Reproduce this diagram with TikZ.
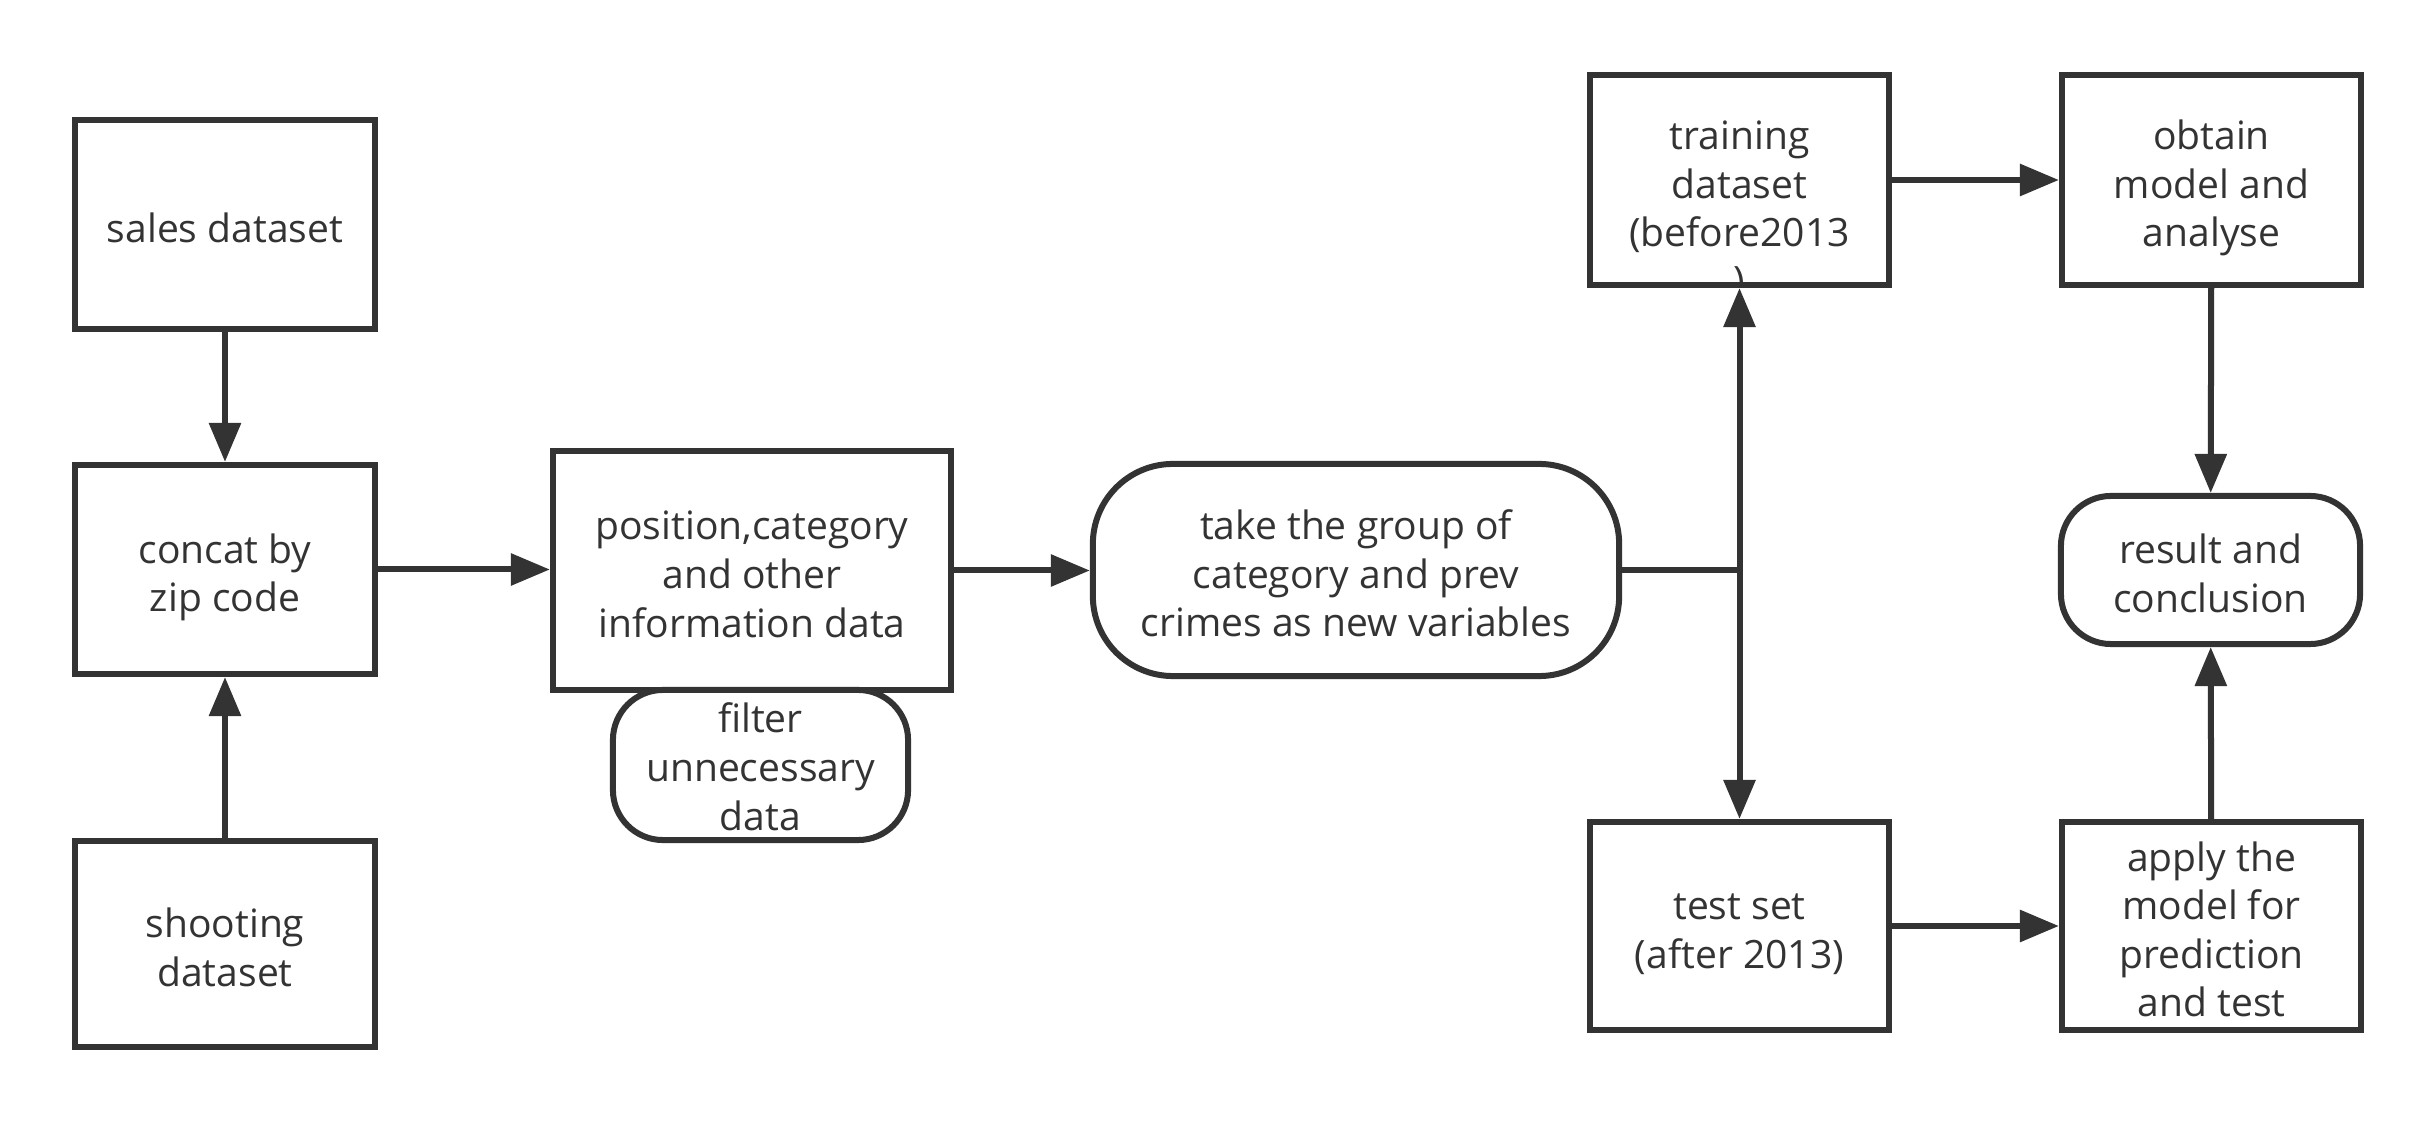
\documentclass[tikz,border=0pt]{standalone}
\usepackage{fontspec}
\setmainfont{Open Sans}
\usetikzlibrary{arrows.meta}
\definecolor{ink}{HTML}{333333}
\newcommand\tst{\rule{0pt}{0.48cm}}
\newcommand\bst{\rule[-0.12cm]{0pt}{0.12cm}}
\newcommand\tstf{\rule{0pt}{0.42cm}}
\newcommand\bstf{\rule[-0.09cm]{0pt}{0.09cm}}
\begin{document}
\begin{tikzpicture}[x=0.01cm,y=-0.01cm,
  font=\fontsize{11.1pt}{13.8pt}\selectfont,
  box/.style={draw=ink, text=ink, line width=0.06cm, fill=white, align=center, inner sep=0pt},
  rbox/.style={box, rounded corners=#1},
  conn/.style={draw=ink, line width=0.06cm},
  arr/.style={conn, -{Triangle[length=0.39cm,width=0.31cm]}}]
\useasboundingbox[fill=white] (0,0) rectangle (2436,1125);

% left column
\node[box, minimum width=3cm, minimum height=2.09cm] (sales) at (225,224.5) {\tst sales dataset\bst};
\node[box, minimum width=3cm, minimum height=2.09cm] (concat) at (225,569.5) {\tst concat by\\zip code\bst};
\node[box, minimum width=3cm, minimum height=2.06cm] (shoot) at (225,944) {\tst shooting\\dataset\bst};

% middle
\node[box, minimum width=3.98cm, minimum height=2.39cm] (pos) at (752,570.5) {\tst position,category\\and other\\information data\bst};
\node[rbox=0.5cm, minimum width=2.95cm, minimum height=1.5cm] (filter) at (760.5,765) {\tstf filter\\unnecessary\\data\bstf};
\node[rbox=0.8cm, minimum width=5.26cm, minimum height=2.12cm] (take) at (1356,570) {\tst take the group of\\category and prev\\crimes as new variables\bst};

% right part
\node[box, minimum width=2.99cm, minimum height=2.10cm] (train) at (1739.5,180) {\tst training\\dataset\\(before2013\bst};
\begin{scope}
  \clip ([yshift=0.03cm]train.south west) rectangle (train.north east);
  \node[text=ink, anchor=base, inner sep=0pt] (trainparen) at (1739.5,295) {)};
\end{scope}
\node[box, minimum width=2.99cm, minimum height=2.08cm] (test) at (1739.5,926) {\tst test set\\(after 2013)\bst};
\node[box, minimum width=2.99cm, minimum height=2.10cm] (obtain) at (2211.5,180) {\tst obtain\\model and\\analyse\bst};
\node[box, minimum width=2.99cm, minimum height=2.08cm] (apply) at (2211.5,926) {\tst apply the\\model for\\prediction\\and test\bst};
\node[rbox=0.5cm, minimum width=2.99cm, minimum height=1.48cm] (result) at (2210.5,570) {\tst result and\\conclusion\bst};
\coordinate (junc) at (1739.5,570);

% connectors
\draw[arr] (sales) -- (concat);
\draw[arr] (shoot) -- (concat);
\draw[arr] (concat.east) -- (concat.east -| pos.west);
\draw[arr] (pos.east) -- (pos.east -| take.west);
\draw[conn] (take.east) -- (junc);
\draw[arr] (junc) -- (train);
\draw[arr] (junc) -- (test);
\draw[arr] (train) -- (obtain);
\draw[arr] (test) -- (apply);
\draw[arr] (obtain) -- (result);
\draw[arr] (apply) -- (result);
\end{tikzpicture}
\end{document}
